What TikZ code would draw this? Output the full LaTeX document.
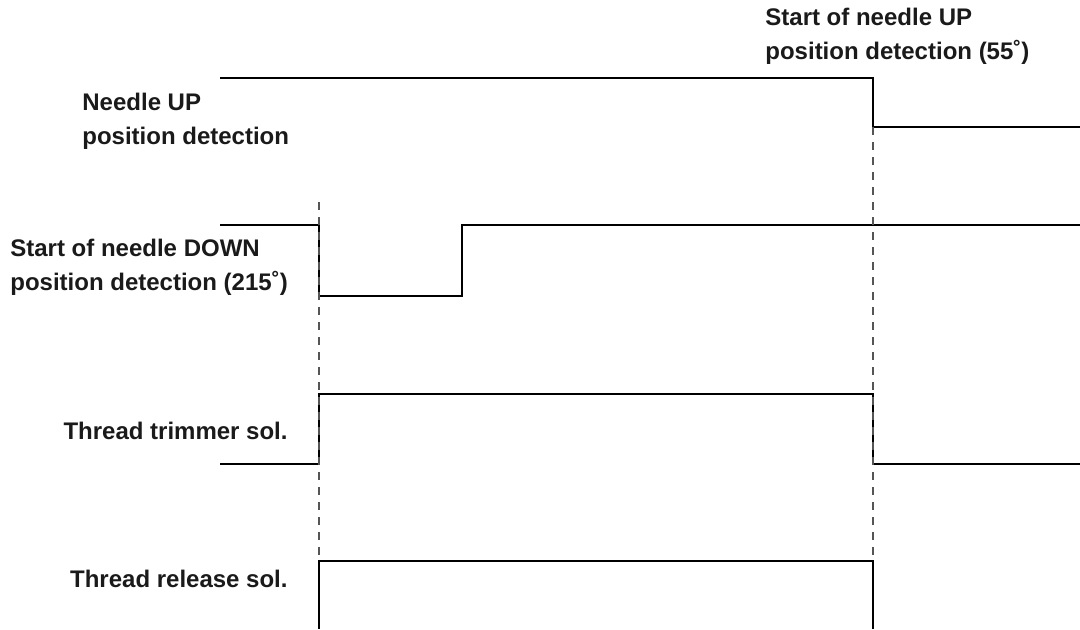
\documentclass[tikz,border=0pt]{standalone}
\usepackage{fontspec}
\setmainfont{Liberation Sans}
\usetikzlibrary{positioning}
\definecolor{ink}{HTML}{1A1A1A}
\definecolor{guidegray}{HTML}{555555}
\tikzset{x=.5pt,y=-.5pt,
  every node/.style={font=\bfseries\fontsize{12}{17}\selectfont,text=ink,inner sep=0pt},
  signal/.style={draw=black,line width=1.4pt,line join=miter},
  guide/.style={draw=guidegray,line width=.6pt,dash pattern=on 4pt off 3.5pt},
  siglabel/.style={align=left,anchor=west}}
\begin{document}
\begin{tikzpicture}
\useasboundingbox(0,0)rectangle(1080,629);
% transition times
\coordinate(tA)at(319,0);\coordinate(tB)at(462,0);\coordinate(tC)at(873,0);
% needle UP
\draw[signal](220,78)-|(tC|-0,127)--(1080,127);
\node[siglabel](upl)at(82,121){Needle UP\\position detection};
% needle DOWN
\draw[signal](220,225)-|(tA|-0,296)-|(tB|-0,225)--(1080,225);
\node[siglabel](dnl)at(10,267){Start of needle DOWN\\position detection (215˚)};
% thread trimmer
\draw[signal](220,464)-|(tA|-0,394)-|(tC|-0,464)--(1080,464);
\node[anchor=east](trl)at(288,431){Thread trimmer sol.};
% thread release
\draw[signal](tA|-0,629)|-(tC|-0,561)--(tC|-0,629);
\node[anchor=east](rel)at(288,579){Thread release sol.};
% guides
\draw[guide](tA|-0,202)--(tA|-0,561);
\draw[guide](tC|-0,127)--(tC|-0,561);
\node[siglabel](stl)at(765,36){Start of needle UP\\position detection (55˚)};
\end{tikzpicture}
\end{document}
